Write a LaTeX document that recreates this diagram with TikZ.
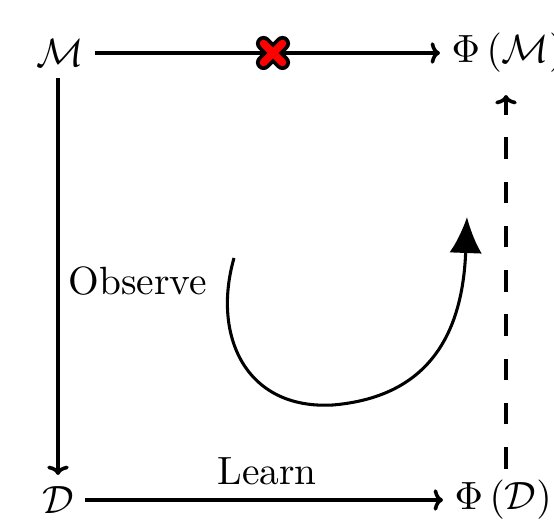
\documentclass[tikz,border=0pt,11pt]{standalone}
\usetikzlibrary{arrows.meta}
\begin{document}
\begin{tikzpicture}[x=0.2778pt,y=-0.2778pt,
  obj/.style={inner sep=3pt},
  mapto/.style={line width=1pt,-{To[length=2.6pt,width=6pt]}},
  bigtip/.style={line width=0.85pt,-{Latex[length=10pt,width=9pt]}},
  label/.style={inner sep=0pt}]
\useasboundingbox (0,0) rectangle (554,521);
\node[obj] (M) at (60,53) {$\mathcal{M}$};
\node[obj,anchor=west] (PM) at (440,53) {$\Phi\left(\mathcal{M}\right)$};
\node[obj] (D) at (58,500) {$\mathcal{D}$};
\node[obj,anchor=west] (PD) at (443,500) {$\Phi\left(\mathcal{D}\right)$};
\node[label] (obs) at (138,281) {Observe};
\node[label,anchor=base] (learn) at (267,485) {Learn};
\coordinate (dx) at (506,0);
\coordinate (vx) at (58,0);
\coordinate (X) at (273,53);
\coordinate (cs) at (234,258);
\coordinate (cb) at (333,405);
\coordinate (ce) at (467,217);
\draw[mapto] (M.east) -- (PM.west);
\draw[mapto] (M.south -| vx) -- (D.north -| vx);
\draw[mapto] (D.east) -- (PD.west);
\draw[mapto,dash pattern=on 6pt off 6.3pt,shorten >=3pt] (PD.north -| dx) -- (PM.south -| dx);
\draw[bigtip] (cs) .. controls (212,335) and (245,410) .. (cb) .. controls (415,398) and (462,350) .. (ce);
\draw[line width=4.2pt,line cap=round] ([shift={(-9.5,-9.5)}]X) -- ([shift={(9.5,9.5)}]X) ([shift={(-9.5,9.5)}]X) -- ([shift={(9.5,-9.5)}]X);
\draw[red,line width=2.1pt,line cap=round] ([shift={(-9.5,-9.5)}]X) -- ([shift={(9.5,9.5)}]X) ([shift={(-9.5,9.5)}]X) -- ([shift={(9.5,-9.5)}]X);
\end{tikzpicture}
\end{document}
